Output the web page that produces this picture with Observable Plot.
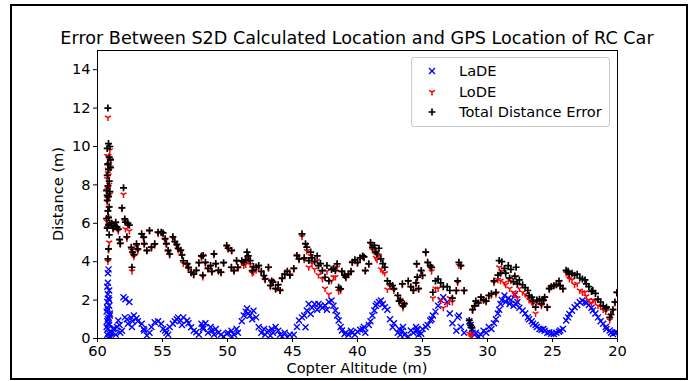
<!DOCTYPE html>
<html><head><meta charset="utf-8">
<script src="https://cdn.jsdelivr.net/npm/d3@7"></script>
<script src="https://cdn.jsdelivr.net/npm/@observablehq/plot@0.6"></script>
<style>
html,body{margin:0;padding:0;background:#fff;}
#wrap{position:relative;width:691px;height:381px;overflow:hidden;font-family:"DejaVu Sans",sans-serif;color:#000;}
#border{position:absolute;left:10px;top:4px;width:674px;height:372px;border:2px solid #000;pointer-events:none;}
#chart{position:absolute;left:0;top:0;}
#title{position:absolute;left:0;width:714px;top:29px;text-align:center;font-size:17.6px;line-height:18px;white-space:nowrap;}
#xlabel{position:absolute;left:0;width:714px;top:361px;text-align:center;font-size:14.6px;line-height:14px;white-space:nowrap;}
#ylabel{position:absolute;left:-42px;top:186px;width:200px;height:16px;line-height:16px;text-align:center;font-size:14.6px;transform:rotate(-90deg);white-space:nowrap;}
#legend{position:absolute;left:411px;top:57px;width:197px;height:68px;border:1px solid #ccc;border-radius:3px;background:rgba(255,255,255,0.8);font-size:14.6px;}
#legend .row{position:absolute;left:0;height:16px;line-height:16px;white-space:nowrap;}
#legend svg{position:absolute;left:15px;top:3px;}
#legend span{position:absolute;left:47px;top:0;}
</style>
</head><body>
<div id="wrap">
  <div id="chart"></div>
  <div id="title">Error Between S2D Calculated Location and GPS Location of RC Car</div>
  <div id="xlabel">Copter Altitude (m)</div>
  <div id="ylabel">Distance (m)</div>
  <div id="legend"></div>
  <div id="border"></div>
</div>
<script>
// Copter altitude (m) for each sample
const altitude = [
59.20,59.15,59.25,59.10,59.20,59.15,59.25,59.10,59.20,59.05,
59.15,59.25,59.10,59.20,59.15,59.05,59.25,59.10,59.15,59.20,
59.05,59.00,59.30,59.00,59.20,59.25,59.30,59.15,
58.9,58.8,58.7,58.6,58.5,58.4,58.3,58.25,58.12,58.0,
57.9,57.85,57.74,57.66,57.55,57.4,57.35,57.3,57.2,57.0,
56.9,56.6,56.45,56.4,56.2,56.0,55.85,55.6,55.34,55.1,
54.96,54.8,54.7,54.57,54.45,54.2,54.05,53.9,53.8,53.6,
53.5,53.4,53.1,53.0,52.8,52.6,52.4,52.2,52.0,51.9,
51.87,
51.7,51.5,51.3,51.2,51.04,50.9,50.7,50.5,50.3,50.06,
49.95,49.68,49.7,49.5,49.3,49.2,48.9,48.75,48.6,48.5,
48.4,48.26,48.1,48.0,47.8,47.6,47.4,47.2,47.1,46.85,
46.7,46.6,46.5,46.3,46.1,45.95,45.8,45.6,45.4,45.2,
44.9,44.66,44.5,44.27,44.1,44.0,43.9,43.75,
43.6,43.5,43.3,43.1,43.0,42.85,42.7,42.5,42.35,42.2,
42.0,41.85,41.7,41.57,41.45,41.3,41.2,41.0,40.9,40.7,
40.5,40.4,40.2,40.0,39.8,39.6,39.5,39.4,39.13,39.0,
38.85,38.7,38.6,38.5,38.35,38.2,38.05,37.9,37.7,37.5,
37.3,37.2,36.9,36.8,36.7,36.55,36.5,36.4,36.1,35.9,
35.7,35.5,
35.45,35.4,35.3,35.1,35.0,34.75,34.6,34.4,34.3,34.2,
34.0,33.8,33.6,33.4,33.1,32.9,32.7,32.4,32.3,32.2,
32.05,31.8,31.4,31.3,31.2,31.15,31.0,30.9,30.7,30.5,
30.3,30.1,29.9,29.7,29.5,29.35,29.2,29.1,29.0,28.9,
28.7,28.6,28.4,28.3,28.2,28.0,27.9,27.7,27.55,
27.8,27.3,27.1,26.9,26.8,26.6,26.5,26.3,26.2,26.0,
25.85,25.7,25.6,25.4,25.25,25.1,24.9,24.7,24.5,24.4,
24.2,23.95,23.8,23.7,23.5,23.3,23.1,22.9,22.7,22.5,
22.4,22.2,22.0,21.9,21.7,21.5,21.3,21.1,20.9,20.85,
20.6,20.5,20.35,20.2,20.05
];
// Latitude distance error (m)
const lade = [
3.4,3.6,2.7,2.5,2.3,2.1,1.9,1.7,1.5,1.3,
1.1,0.9,0.7,0.5,0.3,0.1,0.2,2.0,0.8,1.0,
1.2,0.35,0.6,0.05,2.9,1.6,1.4,0.0,
0.3,0.5,0.52,0.2,0.6,0.94,0.7,0.3,0.4,2.15,
1.1,2.05,1.0,0.77,1.9,1.1,0.6,0.9,1.2,1.05,
0.9,0.77,0.5,0.42,0.16,0.3,0.6,0.85,0.9,0.77,
0.5,0.42,0.3,0.2,0.6,0.77,0.9,1.0,1.1,0.94,
0.7,1.1,0.94,0.8,0.59,0.4,0.33,0.2,0.77,0.6,
0.5,
0.8,0.3,0.6,0.4,0.2,0.5,0.3,0.2,0.1,0.25,
0.3,0.1,0.4,0.2,0.5,0.3,0.9,1.2,1.4,1.56,
1.3,1.2,1.0,1.45,1.1,0.6,0.3,0.5,0.2,0.4,
0.15,0.5,0.3,0.6,0.4,0.2,0.1,0.3,0.07,0.2,
0.2,0.6,0.94,1.1,1.2,0.59,1.46,1.8,
1.28,1.6,1.8,1.5,1.8,1.7,1.6,1.72,1.5,1.9,
1.98,1.7,1.46,1.2,0.94,0.6,0.42,0.24,0.3,0.2,
0.4,0.3,0.2,0.35,0.45,0.5,0.6,0.3,0.7,0.9,
1.2,1.46,1.7,1.8,1.9,1.98,1.8,1.63,1.5,1.0,
0.59,0.8,0.3,0.5,0.2,0.4,0.6,0.2,0.1,0.42,
0.3,0.6,
0.4,0.5,0.2,0.25,0.5,0.6,0.7,0.94,1.0,1.2,
1.4,1.7,2.0,2.15,1.9,1.3,0.8,0.4,1.1,1.2,
0.6,0.3,0.9,0.7,0.5,0.3,0.2,0.3,0.1,0.2,
0.4,0.3,0.6,0.5,0.8,1.0,1.3,1.5,1.8,2.0,
2.24,1.9,2.1,1.8,2.0,1.7,2.3,1.9,1.6,
1.8,1.46,1.3,1.1,1.0,0.9,0.77,0.7,0.6,0.5,
0.45,0.5,0.4,0.3,0.33,0.25,0.24,0.3,0.35,0.42,
0.5,0.94,1.1,1.28,1.45,1.63,1.75,1.89,1.98,1.9,
1.85,1.75,1.6,1.46,1.3,1.1,0.9,0.77,0.6,0.5,
0.42,0.3,0.24,0.3,0.33
];
// Longitude distance error (m)
const lode = [
11.5,9.5,9.5,9.1,8.8,8.5,8.3,8.0,7.8,7.5,
7.3,7.1,6.8,6.6,6.3,6.0,5.75,5.0,4.6,4.0,
9.8,8.9,7.7,9.3,8.6,7.3,6.1,5.9,
6.0,5.7,5.8,6.0,5.75,5.6,5.1,4.9,6.75,7.5,
6.1,5.7,5.2,5.95,5.6,4.6,3.5,4.4,4.25,4.8,
4.55,5.4,5.2,4.9,4.55,5.6,4.7,4.85,5.45,5.5,
5.45,5.1,4.9,4.55,4.35,5.2,5.0,4.8,4.6,4.5,
4.3,3.9,3.8,3.6,3.4,3.3,3.5,3.9,4.2,3.2,
4.3,
3.9,3.6,3.75,3.45,4.35,3.85,3.5,3.4,3.9,4.8,
4.65,4.55,3.65,3.5,4.0,3.65,3.95,3.8,3.85,4.2,
4.1,3.85,3.4,3.45,3.55,3.75,3.45,3.2,3.05,3.65,
2.7,3.0,2.9,2.55,2.75,2.5,3.1,3.3,3.5,3.3,
3.6,4.3,4.1,5.3,4.1,4.9,4.55,3.7,
4.3,3.9,3.6,4.05,3.3,3.5,3.1,2.6,3.5,2.3,
3.0,3.2,3.2,3.7,2.45,2.5,3.45,3.3,3.15,3.3,
3.45,3.95,4.05,3.9,4.15,4.25,4.2,3.5,3.85,4.9,
4.6,4.6,4.2,4.1,4.3,3.6,3.5,3.4,2.55,2.7,
2.7,2.5,2.2,1.9,2.0,2.8,1.6,1.8,2.95,2.65,
2.5,2.85,
3.85,3.15,2.55,3.5,3.25,4.45,3.9,3.65,3.5,2.1,
2.6,2.6,2.0,1.6,1.8,2.1,1.9,2.45,2.9,3.8,
3.75,2.45,0.25,0.15,0.2,1.45,1.65,1.9,1.85,2.1,
2.0,1.9,2.2,2.25,2.9,2.3,3.05,3.7,3.0,3.5,
2.9,2.8,3.1,2.6,3.0,2.4,2.3,2.1,2.6,
3.2,2.4,2.3,2.2,2.0,1.9,1.8,1.3,1.9,2.0,
1.7,1.9,2.1,1.6,2.55,2.7,2.75,2.8,2.95,2.7,
2.55,3.4,3.3,3.1,3.05,2.8,2.85,2.5,2.4,2.4,
2.2,2.0,1.85,2.0,1.95,1.7,1.65,1.5,1.4,1.6,
0.95,1.2,1.45,1.85,2.35
];
// Total distance error (m)
const total = [
12.0,10.15,9.9,9.45,9.1,8.8,8.5,8.2,7.95,7.65,
7.4,7.2,6.85,6.65,6.3,6.0,5.75,5.4,4.67,4.15,
10.0,8.9,7.7,9.3,9.05,7.45,6.25,5.9,
6.0,5.75,5.85,6.05,5.8,5.7,5.15,4.95,6.8,7.85,
6.23,6.06,5.3,6.0,5.9,4.75,3.71,4.5,4.37,4.93,
4.67,5.45,5.28,4.93,4.58,5.62,4.76,4.93,5.54,5.54,
5.5,5.2,4.93,4.58,4.4,5.3,5.05,4.9,4.7,4.6,
4.35,4.05,3.9,3.7,3.45,3.35,3.55,3.95,4.3,3.3,
4.32,
3.97,3.65,3.8,3.5,4.41,3.9,3.55,3.45,3.95,4.84,
4.7,4.58,3.71,3.54,4.06,3.7,4.05,3.97,4.1,4.5,
4.3,4.06,3.54,3.75,3.72,3.8,3.5,3.28,3.1,3.71,
2.76,3.0,2.93,2.6,2.8,2.5,3.13,3.35,3.5,3.3,
3.65,4.32,4.15,5.45,4.2,4.93,4.76,4.06,
4.5,4.2,4.0,4.3,3.8,3.9,3.54,3.19,3.8,3.0,
3.6,3.65,3.54,3.89,2.67,2.59,3.5,3.3,3.2,3.35,
3.5,3.97,4.1,3.97,4.2,4.3,4.25,3.54,3.89,5.0,
4.75,4.85,4.5,4.4,4.7,4.15,3.9,3.71,3.0,2.85,
2.76,2.6,2.24,1.95,2.0,2.85,1.7,1.8,3.0,2.7,
2.5,2.9,
3.89,3.2,2.6,3.54,3.28,4.5,3.97,3.8,3.7,2.41,
3.0,3.1,2.9,2.7,2.7,2.5,2.1,2.5,3.0,3.97,
3.8,2.5,0.94,0.7,0.55,1.5,1.7,1.95,1.85,2.15,
2.0,1.95,2.24,2.33,3.0,2.41,3.3,4.06,3.4,4.0,
3.65,3.4,3.8,3.15,3.6,2.95,3.25,2.85,3.05,
3.71,2.8,2.65,2.5,2.24,2.15,1.95,1.63,2.0,2.05,
1.8,2.0,2.15,1.63,2.6,2.7,2.75,2.8,3.0,2.75,
2.6,3.55,3.5,3.35,3.4,3.3,3.35,3.15,3.1,3.05,
2.85,2.7,2.45,2.5,2.35,2.05,1.9,1.7,1.55,1.63,
1.1,1.25,1.5,1.9,2.4
];
const xTicks = [60, 55, 50, 45, 40, 35, 30, 25, 20];
const yTicks = [0, 2, 4, 6, 8, 10, 12, 14];
const seriesNames = ["LaDE", "LoDE", "Total Distance Error"];
const seriesColors = ["#0000ff", "#ff0000", "#000000"];

const rows = altitude.map((a, i) => ({alt: a, lade: lade[i], lode: lode[i], total: total[i]}));

// matplotlib-like marker shapes
const timesSym = {draw(c) { const r = 3; c.moveTo(-r, -r); c.lineTo(r, r); c.moveTo(-r, r); c.lineTo(r, -r); }};
const triDownSym = {draw(c) { const r = 3.4; c.moveTo(0, 0); c.lineTo(0, r); c.moveTo(0, 0); c.lineTo(-0.866 * r, -0.5 * r); c.moveTo(0, 0); c.lineTo(0.866 * r, -0.5 * r); }};
const plusSym = {draw(c) { const r = 3.5; c.moveTo(-r, 0); c.lineTo(r, 0); c.moveTo(0, -r); c.lineTo(0, r); }};
const widths = [1.4, 1.5, 1.7];

const chart = Plot.plot({
  width: 691, height: 381,
  marginLeft: 97, marginRight: 74, marginTop: 50, marginBottom: 43,
  style: {fontFamily: "DejaVu Sans", fontSize: "14.6px", color: "#000", background: "transparent", overflow: "visible"},
  x: {domain: [60, 20]},
  y: {domain: [0, 15]},
  marks: [
    Plot.dot(rows, {x: "alt", y: "lade", symbol: timesSym, r: 3, stroke: seriesColors[0], fill: "none", strokeWidth: widths[0], clip: true}),
    Plot.dot(rows, {x: "alt", y: "lode", symbol: triDownSym, r: 3, stroke: seriesColors[1], fill: "none", strokeWidth: widths[1], clip: true}),
    Plot.dot(rows, {x: "alt", y: "total", symbol: plusSym, r: 3, stroke: seriesColors[2], fill: "none", strokeWidth: widths[2], clip: true}),
    Plot.frame({stroke: "#000", strokeWidth: 1}),
    Plot.axisX({ticks: xTicks, tickSize: 4, tickPadding: 3, label: null, tickFormat: d => String(d)}),
    Plot.axisY({ticks: yTicks, tickSize: 4, tickPadding: 3, label: null, tickFormat: d => String(d)})
  ]
});
document.getElementById("chart").appendChild(chart);

// legend
const legend = document.getElementById("legend");
const iconPaths = [
  "M-3,-3L3,3M-3,3L3,-3",
  "M0,0L0,3.4M0,0L-2.9,-1.7M0,0L2.9,-1.7",
  "M-3.5,0L3.5,0M0,-3.5L0,3.5"
];
const rowTops = [5, 26, 46];
seriesNames.forEach((name, i) => {
  const row = document.createElement("div");
  row.className = "row";
  row.style.top = rowTops[i] + "px";
  row.style.width = "190px";
  row.innerHTML = `<svg width="10" height="10" viewBox="-5 -5 10 10"><path d="${iconPaths[i]}" stroke="${seriesColors[i]}" stroke-width="${widths[i]}" fill="none"/></svg><span>${name}</span>`;
  legend.appendChild(row);
});
</script>
</body></html>
